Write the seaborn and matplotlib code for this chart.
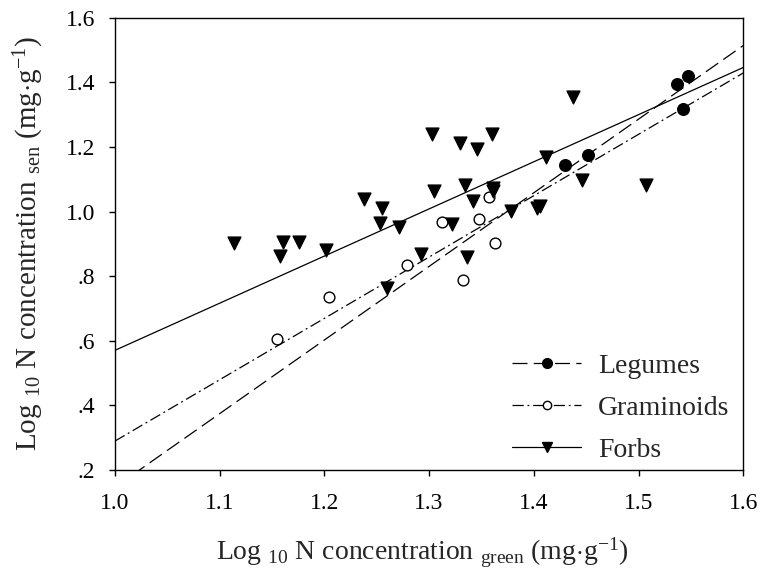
import numpy as np
import pandas as pd
import matplotlib
matplotlib.use("Agg")
import matplotlib.pyplot as plt
from matplotlib.lines import Line2D
from matplotlib.ticker import FuncFormatter, MultipleLocator
import seaborn as sns

# ── Data ──────────────────────────────────────────────────────────────────────
legume_x = [1.430, 1.452, 1.537, 1.547, 1.542]
legume_y = [1.144, 1.176, 1.395, 1.420, 1.318]

gram_x = [1.155, 1.204, 1.279, 1.312, 1.332, 1.348, 1.357, 1.363]
gram_y = [0.606, 0.734, 0.834, 0.969, 0.787, 0.977, 1.044, 0.903]

forb_x = [1.114, 1.158, 1.161, 1.176, 1.202, 1.238, 1.253, 1.255, 1.260, 1.271,
          1.292, 1.303, 1.305, 1.322, 1.330, 1.334, 1.336, 1.342, 1.346, 1.360,
          1.361, 1.361, 1.378, 1.403, 1.406, 1.412, 1.437, 1.446, 1.507]
forb_y = [0.904, 0.862, 0.906, 0.906, 0.880, 1.039, 0.965, 1.010, 0.762, 0.951,
          0.867, 1.241, 1.063, 0.961, 1.213, 1.082, 0.860, 1.034, 1.193, 1.239,
          1.072, 1.062, 1.003, 1.010, 1.018, 1.169, 1.354, 1.097, 1.082]

# fitted lines: (intercept at x = 1.0, slope)
legume_fit = (0.146, 2.28)
gram_fit = (0.289, 1.90)
forb_fit = (0.570, 1.46)

groups = ["Legumes", "Graminoids", "Forbs"]

# ── Style ─────────────────────────────────────────────────────────────────────
sns.set_style("ticks")
plt.rcParams.update({
    "font.family": ["Liberation Serif", "DejaVu Serif"],
    "mathtext.fontset": "custom",
    "mathtext.rm": "Liberation Serif",
    "mathtext.it": "Liberation Serif:italic",
    "axes.linewidth": 1.0,
})

fig = plt.figure(figsize=(7.71, 5.73), dpi=100)
ax = fig.add_axes([0.149, 0.180, 0.815, 0.789])

LONG_DASH = (12, 5)
DASH_DOT = (9, 3, 1.5, 3)

styles = {
    "Legumes": dict(marker="o", face="black", s=70, ms=7, dashes=LONG_DASH, fit=legume_fit),
    "Graminoids": dict(marker="o", face="white", s=60, ms=6, dashes=DASH_DOT, fit=gram_fit),
    "Forbs": dict(marker="v", face="black", s=85, ms=7.5, dashes=None, fit=forb_fit),
}
frames = {
    "Legumes": pd.DataFrame({"x": legume_x, "y": legume_y}),
    "Graminoids": pd.DataFrame({"x": gram_x, "y": gram_y}),
    "Forbs": pd.DataFrame({"x": forb_x, "y": forb_y}),
}

xs = np.array([1.0, 1.6])
for g in groups:
    st = styles[g]
    b0, b1 = st["fit"]
    line, = ax.plot(xs, b0 + b1 * (xs - 1.0), color="black", lw=0.9, zorder=2)
    if st["dashes"] is not None:
        line.set_dashes(st["dashes"])
    sns.scatterplot(data=frames[g], x="x", y="y", ax=ax, marker=st["marker"],
                    s=st["s"], color=st["face"], edgecolor="black",
                    linewidth=1.0, legend=False, zorder=3)

ax.set_xlim(1.0, 1.6)
ax.set_ylim(0.2, 1.6)
ax.xaxis.set_major_locator(MultipleLocator(0.1))
ax.yaxis.set_major_locator(MultipleLocator(0.2))


def yfmt(v, pos):
    s = f"{v:.1f}"
    return s[1:] if v < 1 else s


ax.yaxis.set_major_formatter(FuncFormatter(yfmt))
ax.tick_params(direction="out", length=4, width=1.0, labelsize=17,
               colors="black")
ax.tick_params(axis="x", pad=13)
ax.tick_params(axis="y", pad=10)
for sp in ax.spines.values():
    sp.set_visible(True)
    sp.set_color("black")

ax.set_xlabel(r"Log $_{10}$ N concentration $_{\mathrm{green}}$ (mg$\cdot$g$^{-1}$)",
              fontsize=20)
ax.set_ylabel(r"Log $_{10}$ N concentration $_{\mathrm{sen}}$ (mg$\cdot$g$^{-1}$)",
              fontsize=21)
ax.xaxis.set_label_coords(0.49, -0.145)
ax.yaxis.set_label_coords(-0.110, 0.5)

handles = []
for g in groups:
    st = styles[g]
    h = Line2D([0], [0], color="black", lw=0.9, marker=st["marker"],
               markerfacecolor=st["face"], markeredgecolor="black",
               markersize=st["ms"])
    if st["dashes"] is not None:
        h.set_dashes(st["dashes"])
    handles.append(h)

ax.legend(handles, groups, loc="lower right", bbox_to_anchor=(1.0, -0.015),
          frameon=False, fontsize=20, handlelength=2.5, handletextpad=0.6,
          labelspacing=0.6, borderaxespad=0.1)

fig.savefig("out.png", dpi=100)
